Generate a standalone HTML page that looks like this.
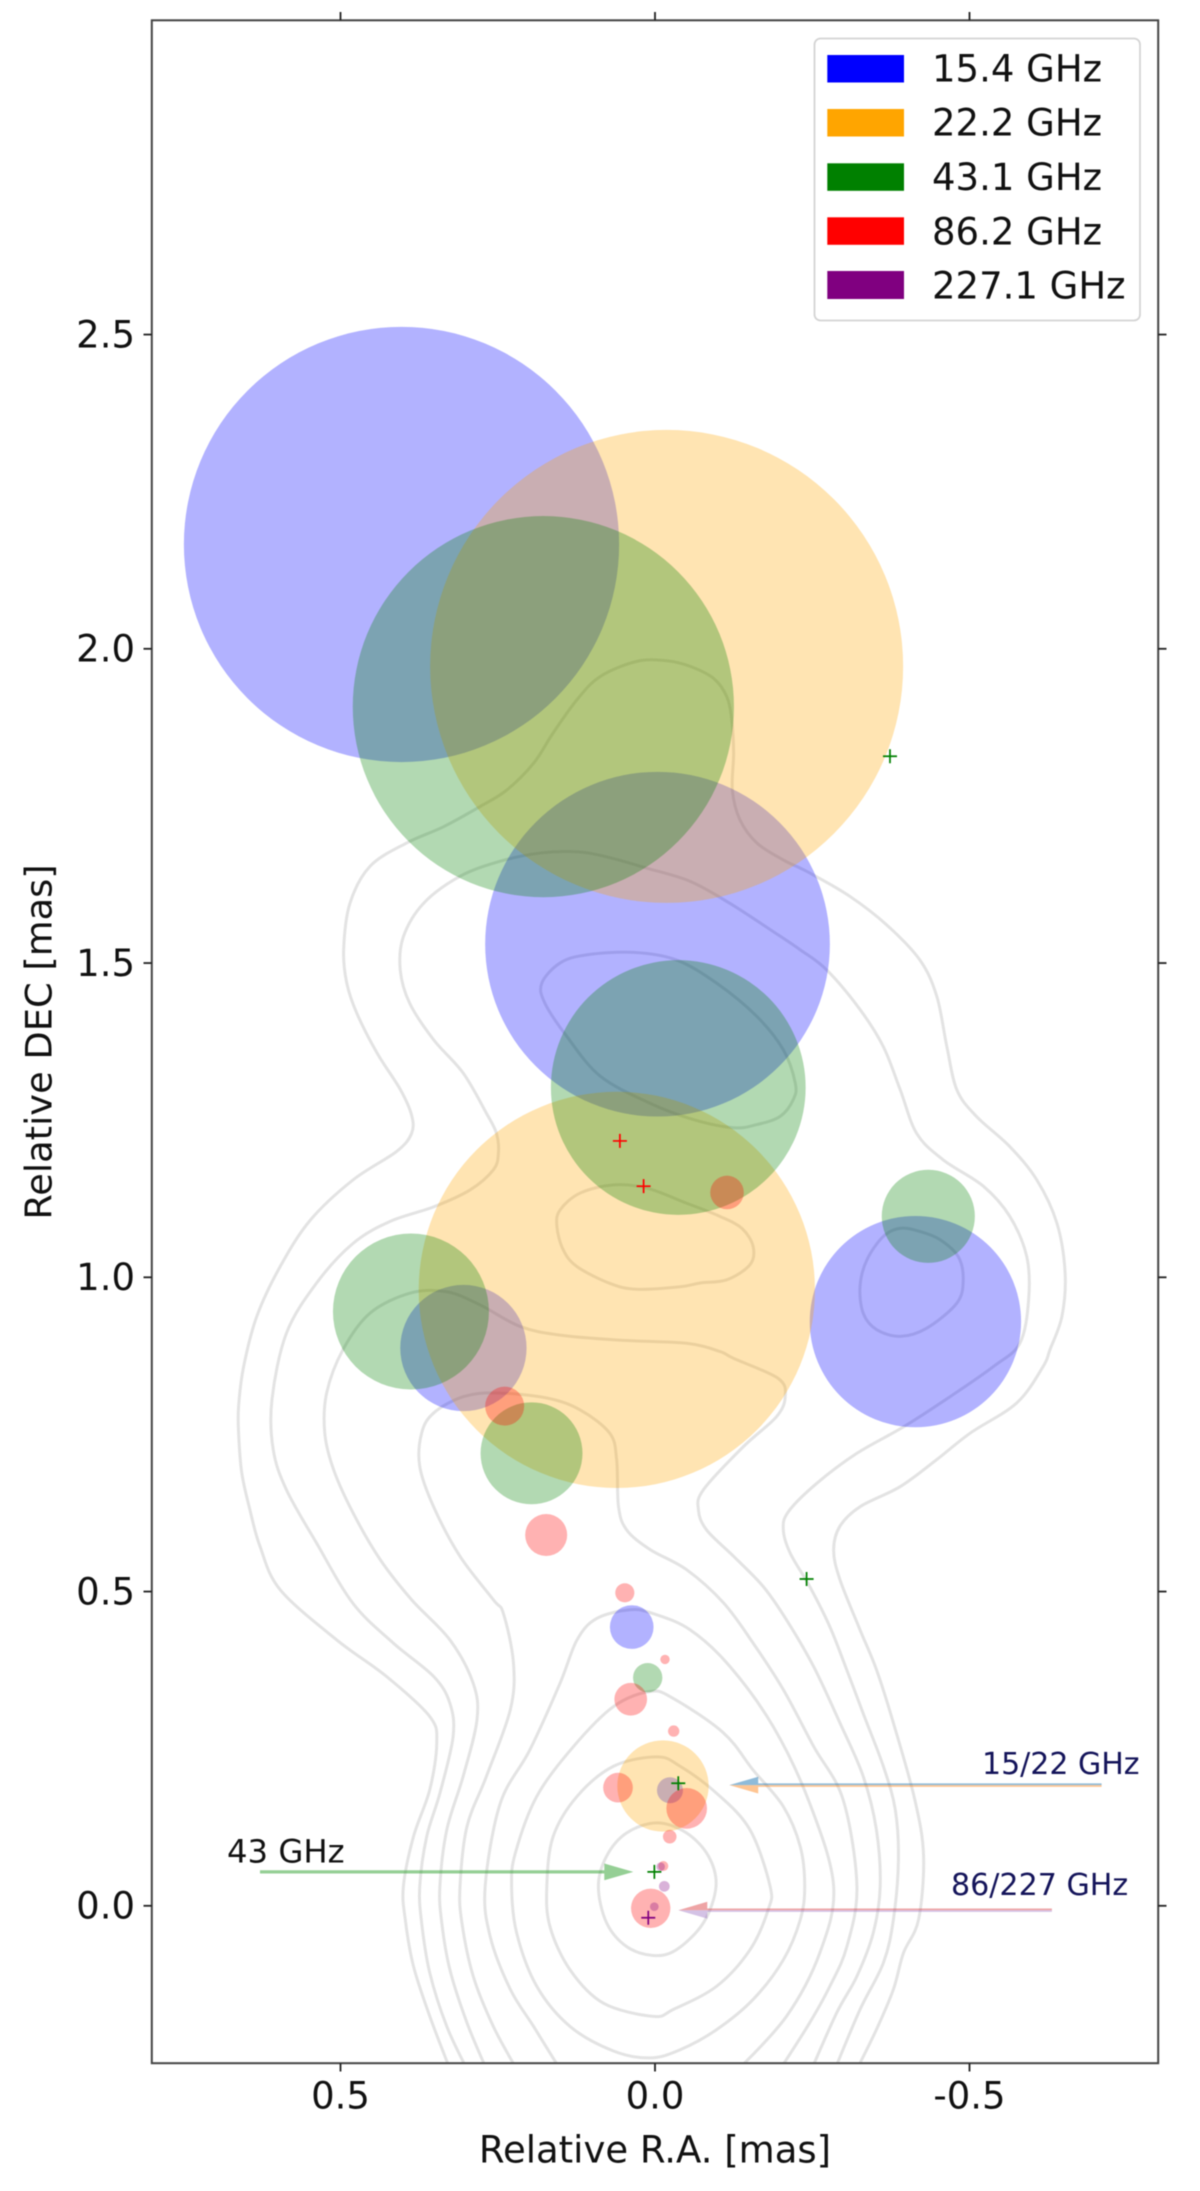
<!DOCTYPE html>
<html lang="en">
<head>
<meta charset="utf-8">
<title>VLBI component positions</title>
<style>
  html, body { margin: 0; padding: 0; background: #ffffff; }
  #chart { display: block; width: 1200px; height: 2191px; font-family: "DejaVu Sans", "Liberation Sans", sans-serif; filter: blur(0.45px); }
</style>
</head>
<body>
<svg id="chart" xmlns="http://www.w3.org/2000/svg" width="1200" height="2191" viewBox="0 0 1200 2191">
  <defs>
    <clipPath id="plot-clip"><rect x="151.8" y="20.3" width="1006.4" height="2042.9"/></clipPath>
  </defs>
  <rect x="0" y="0" width="1200" height="2191" fill="#ffffff"/>
  <g id="contour-layer" clip-path="url(#plot-clip)"></g>
  <g id="component-layer" clip-path="url(#plot-clip)"></g>
  <g id="arrow-layer"></g>
  <g id="marker-layer"></g>

  <text x="227" y="1862.5" font-size="32.3" fill="#111111">43 GHz</text>
  <text x="982" y="1774" font-size="30" fill="#14145a">15/22 GHz</text>
  <text x="951" y="1895" font-size="30.1" fill="#14145a">86/227 GHz</text>

  <rect x="151.8" y="20.3" width="1006.4" height="2042.9" fill="none" stroke="#444444" stroke-width="2"/>
  <g id="tick-layer"></g>

  <text x="655" y="2162.5" font-size="37" text-anchor="middle" fill="#111111">Relative R.A. [mas]</text>
  <text transform="translate(51.5 1042) rotate(-90)" font-size="36.8" text-anchor="middle" fill="#111111">Relative DEC [mas]</text>

  <g>
    <rect x="814.5" y="38.5" width="325.5" height="282" rx="6" ry="6" fill="#ffffff" fill-opacity="0.8" stroke="#d4d4d4" stroke-width="1.8"/>
    <rect x="827.3" y="55" width="76.7" height="27.5" fill="#0000ff"/>
    <text x="932" y="81.7" font-size="37" fill="#111111">15.4 GHz</text>
    <rect x="827.3" y="109" width="76.7" height="27.5" fill="#ffa500"/>
    <text x="932" y="135.7" font-size="37" fill="#111111">22.2 GHz</text>
    <rect x="827.3" y="163.3" width="76.7" height="27.5" fill="#008000"/>
    <text x="932" y="190" font-size="37" fill="#111111">43.1 GHz</text>
    <rect x="827.3" y="217.3" width="76.7" height="27.5" fill="#ff0000"/>
    <text x="932" y="244.3" font-size="37" fill="#111111">86.2 GHz</text>
    <rect x="827.3" y="271" width="76.7" height="28" fill="#800080"/>
    <text x="932" y="298.3" font-size="37" fill="#111111">227.1 GHz</text>
  </g>
</svg>

<script>
// Axis tick values and labels
const xTickValues = [0.5, 0.0, -0.5];
const xTickLabels = ["0.5", "0.0", "-0.5"];
const yTickValues = [0.0, 0.5, 1.0, 1.5, 2.0, 2.5];
const yTickLabels = ["0.0", "0.5", "1.0", "1.5", "2.0", "2.5"];

// Model components per band: relative R.A., relative DEC, radius (all in mas)
const ra15 = [0.403, -0.004, -0.414, 0.3046, 0.037, -0.0238];
const dec15 = [2.166, 1.530, 0.9295, 0.8875, 0.4435, 0.1838];
const radius15 = [0.346, 0.274, 0.168, 0.1004, 0.0347, 0.0207];

const ra22 = [-0.0185, 0.0607, -0.0127];
const dec22 = [1.972, 0.980, 0.1906];
const radius22 = [0.376, 0.315, 0.0726];

const ra43 = [0.1775, -0.037, -0.4345, 0.388, 0.1963, 0.0116];
const dec43 = [1.908, 1.302, 1.097, 0.9455, 0.720, 0.363];
const radius43 = [0.303, 0.2025, 0.074, 0.124, 0.081, 0.0233];

const ra86 = [0.239, 0.173, -0.1145, 0.048, -0.0159, 0.0386, -0.0297, 0.0588, -0.0504, -0.0234, -0.0132, 0.0068];
const dec86 = [0.795, 0.590, 1.135, 0.498, 0.392, 0.3286, 0.278, 0.188, 0.155, 0.110, 0.0633, -0.004];
const radius86 = [0.031, 0.0334, 0.0267, 0.0152, 0.0075, 0.026, 0.009, 0.0236, 0.0323, 0.0108, 0.008, 0.0313];

const ra227 = [-0.009, -0.0148, 0.0011];
const dec227 = [0.0622, 0.031, -0.0014];
const radius227 = [0.0068, 0.0085, 0.0069];

// Point-like components drawn as plus markers
const plusRa43 = [-0.3736, -0.241, -0.037, 0.001];
const plusDec43 = [1.829, 0.520, 0.195, 0.054];
const plusRa86 = [0.0558, 0.0181];
const plusDec86 = [1.217, 1.145];
const plusRa227 = [0.0107];
const plusDec227 = [-0.019];

// Arrows: tail and tip R.A., DEC (mas)
const arrow43Ra = [0.628, 0.0345];
const arrow43Dec = 0.054;
const arrow1522Ra = [-0.710, -0.118];
const arrow1522Dec = 0.192;
const arrow86227Ra = [-0.631, -0.037];
const arrow86227Dec = -0.007;

// Intensity contours as [R.A., DEC] vertices (mas)
const contourOuter1 = [[.326,-.26],[.358,-.176],[.384,-.096],[.397,-.022],[.400,.031],[.384,.110],[.358,.185],[.347,.259],[.358,.301],[.427,.365],[.506,.423],[.596,.503],[.628,.572],[.644,.630],[.657,.689],[.662,.752],[.662,.795],[.654,.858],[.633,.938],[.596,1.017],[.548,1.091],[.480,1.155],[.411,1.200],[.387,1.229],[.387,1.258],[.405,1.299],[.442,1.357],[.474,1.420],[.490,1.468],[.495,1.521],[.485,1.595],[.453,1.654],[.395,1.691],[.336,1.717],[.278,1.749],[.236,1.775],[.193,1.818],[.162,1.866],[.124,1.919],[.087,1.956],[.029,1.980],[-.019,1.981],[-.056,1.972],[-.093,1.953],[-.114,1.924],[-.122,1.887],[-.125,1.834],[-.123,1.775],[-.135,1.728],[-.162,1.691],[-.204,1.664],[-.231,1.651],[-.252,1.640],[-.310,1.606],[-.368,1.561],[-.421,1.505],[-.448,1.447],[-.464,1.367],[-.480,1.298],[-.511,1.256],[-.564,1.208],[-.607,1.155],[-.639,1.086],[-.652,1.007],[-.647,.938],[-.628,.885],[-.617,.858],[-.575,.800],[-.501,.752],[-.448,.710],[-.390,.667],[-.326,.635],[-.294,.604],[-.284,.566],[-.294,.519],[-.326,.439],[-.352,.376],[-.379,.291],[-.413,.169],[-.427,.079],[-.419,-.022],[-.395,-.075],[-.379,-.133],[-.352,-.197],[-.321,-.26]];
const contourOuter2 = [[.299,-.26],[.331,-.192],[.358,-.107],[.371,-.027],[.374,.031],[.363,.110],[.342,.179],[.321,.269],[.326,.322],[.352,.365],[.416,.418],[.480,.481],[.538,.577],[.586,.662],[.607,.726],[.609,.805],[.586,.911],[.538,.991],[.480,1.054],[.421,1.089],[.352,1.112],[.294,1.139],[.257,1.171],[.249,1.197],[.252,1.229],[.268,1.261],[.305,1.325],[.352,1.378],[.390,1.436],[.405,1.489],[.400,1.542],[.368,1.595],[.310,1.638],[.246,1.662],[.183,1.675],[.124,1.677],[.077,1.669],[.013,1.651],[-.056,1.630],[-.119,1.595],[-.188,1.550],[-.231,1.521],[-.273,1.489],[-.326,1.426],[-.363,1.367],[-.390,1.298],[-.416,1.229],[-.458,1.187],[-.522,1.145],[-.564,1.097],[-.591,1.033],[-.594,.964],[-.580,.895],[-.538,.858],[-.469,.810],[-.395,.762],[-.321,.720],[-.257,.672],[-.212,.627],[-.204,.598],[-.215,.561],[-.246,.508],[-.278,.444],[-.305,.375],[-.331,.306],[-.363,.222],[-.382,.153],[-.387,.073],[-.379,-.022],[-.363,-.091],[-.326,-.165],[-.286,-.26]];
const contourOuter3 = [[.268,-.26],[.299,-.186],[.326,-.102],[.339,-.027],[.342,.031],[.331,.121],[.305,.206],[.283,.296],[.289,.354],[.326,.423],[.387,.487],[.437,.551],[.480,.625],[.511,.694],[.525,.752],[.522,.816],[.496,.885],[.453,.943],[.389,.975],[.331,.977],[.278,.956],[.215,.922],[.151,.908],[.056,.900],[-.050,.895],[-.103,.882],[-.125,.871],[-.196,.839],[-.207,.810],[-.193,.778],[-.141,.731],[-.077,.662],[-.069,.630],[-.082,.598],[-.125,.556],[-.172,.508],[-.209,.455],[-.252,.381],[-.294,.291],[-.331,.206],[-.352,.121],[-.358,.031],[-.347,-.043],[-.321,-.112],[-.289,-.170],[-.249,-.26]];
const contourOuter4 = [[.220,-.26],[.257,-.192],[.289,-.112],[.307,-.027],[.310,.031],[.299,.126],[.268,.206],[.230,.312],[.225,.386],[.241,.465],[.257,.487],[.310,.556],[.352,.635],[.374,.699],[.371,.752],[.352,.784],[.305,.810],[.252,.816],[.172,.808],[.119,.789],[.072,.752],[.061,.710],[.058,.635],[.045,.598],[.008,.567],[-.050,.535],[-.109,.482],[-.156,.418],[-.204,.344],[-.252,.254],[-.299,.169],[-.321,.031],[-.305,-.065],[-.278,-.128],[-.246,-.186],[-.199,-.26]];
const contourMiddle5 = [[.151,-.26],[.193,-.192],[.230,-.133],[.262,-.049],[.270,.031],[.246,.163],[.199,.248],[.151,.354],[.124,.423],[.093,.457],[.040,.471],[.003,.465],[-.056,.439],[-.119,.381],[-.188,.285],[-.246,.163],[-.284,.031],[-.262,-.075],[-.209,-.176],[-.133,-.26]];
const contourClosed6 = [[.008,.341],[.066,.317],[.130,.253],[.188,.174],[.222,.084],[.228,.031],[.220,-.043],[.188,-.128],[.135,-.192],[.066,-.231],[.008,-.242],[-.040,-.229],[-.098,-.197],[-.156,-.149],[-.204,-.086],[-.231,-.022],[-.238,.031],[-.231,.094],[-.204,.158],[-.156,.216],[-.109,.275],[-.029,.330]];
const contourClosed7 = [[-.003,.237],[.066,.222],[.124,.174],[.162,.110],[.172,.031],[.167,-.033],[.135,-.102],[.082,-.155],[.003,-.176],[-.029,-.165],[-.098,-.128],[-.151,-.070],[-.180,-.006],[-.183,.031],[-.151,.121],[-.098,.179],[-.040,.222]];
const contourCore8 = [[-.003,.132],[.045,.116],[.077,.079],[.090,.031],[.077,-.027],[.045,-.065],[.003,-.079],[-.034,-.070],[-.077,-.027],[-.097,.031],[-.085,.079],[-.050,.116]];
const contourJetUpper = [[.180,1.468],[.151,1.500],[.109,1.513],[.034,1.517],[-.034,1.505],[-.098,1.468],[-.162,1.415],[-.204,1.362],[-.223,1.309],[-.220,1.283],[-.199,1.256],[-.162,1.243],[-.125,1.238],[-.061,1.251],[.008,1.277],[.087,1.320],[.140,1.383],[.175,1.436]];
const contourJetMiddle = [[.151,1.107],[.119,1.134],[.066,1.147],[.013,1.142],[-.050,1.118],[-.103,1.097],[-.138,1.078],[-.156,1.049],[-.151,1.020],[-.114,.996],[-.072,.991],[-.040,.985],[.029,.981],[.071,.990],[.124,1.017],[.146,1.044],[.156,1.081]];
const contourJetRight = [[-.390,1.078],[-.363,1.065],[-.337,1.028],[-.326,.986],[-.331,.943],[-.352,.917],[-.390,.906],[-.432,.919],[-.480,.959],[-.490,.996],[-.482,1.033],[-.453,1.060],[-.421,1.073]];

const SVG_NS = "http://www.w3.org/2000/svg";

// Axis functions
function xScale(ra) { return 655 - 629 * ra; }
function yScale(dec) { return 1905.8 - 628.5 * dec; }
function rScale(r) { return 629 * r; }

function smoothPath(points, closed) {
  const n = points.length;
  const px = points.map(function (p) { return [xScale(p[0]), yScale(p[1])]; });
  const at = function (i) {
    if (closed) { return px[(i + n) % n]; }
    return px[Math.max(0, Math.min(n - 1, i))];
  };
  let d = "M" + px[0][0].toFixed(2) + " " + px[0][1].toFixed(2);
  const segments = closed ? n : n - 1;
  for (let i = 0; i < segments; i++) {
    const p0 = at(i - 1), p1 = at(i), p2 = at(i + 1), p3 = at(i + 2);
    const c1x = p1[0] + (p2[0] - p0[0]) / 6, c1y = p1[1] + (p2[1] - p0[1]) / 6;
    const c2x = p2[0] - (p3[0] - p1[0]) / 6, c2y = p2[1] - (p3[1] - p1[1]) / 6;
    d += "C" + c1x.toFixed(2) + " " + c1y.toFixed(2) + " " + c2x.toFixed(2) + " " + c2y.toFixed(2) + " " + p2[0].toFixed(2) + " " + p2[1].toFixed(2);
  }
  return closed ? d + "Z" : d;
}

// Contours
const contourLayer = document.getElementById("contour-layer");
function drawContour(points, closed) {
  const el = document.createElementNS(SVG_NS, "path");
  
  
  el.setAttribute("d", smoothPath(points, closed));
  el.setAttribute("fill", "none");
  el.setAttribute("stroke", "#000000");
  el.setAttribute("stroke-opacity", "0.11");
  el.setAttribute("stroke-width", "3");
  contourLayer.appendChild(el);
}
drawContour(contourOuter1, false);
drawContour(contourOuter2, false);
drawContour(contourOuter3, false);
drawContour(contourOuter4, false);
drawContour(contourMiddle5, false);
drawContour(contourClosed6, true);
drawContour(contourClosed7, true);
drawContour(contourCore8, true);
drawContour(contourJetUpper, true);
drawContour(contourJetMiddle, true);
drawContour(contourJetRight, true);

// Gaussian components
const componentLayer = document.getElementById("component-layer");
function drawBand(raValues, decValues, radiusValues, color) {
  for (let i = 0; i < raValues.length; i++) {
    const el = document.createElementNS(SVG_NS, "circle");
    
    
    el.setAttribute("cx", xScale(raValues[i]).toFixed(2));
    el.setAttribute("cy", yScale(decValues[i]).toFixed(2));
    el.setAttribute("r", rScale(radiusValues[i]).toFixed(2));
    el.setAttribute("fill", color);
    el.setAttribute("fill-opacity", "0.3");
    componentLayer.appendChild(el);
  }
}
drawBand(ra15, dec15, radius15, "#0000ff");
drawBand(ra22, dec22, radius22, "#ffa500");
drawBand(ra43, dec43, radius43, "#008000");
drawBand(ra86, dec86, radius86, "#ff0000");
drawBand(ra227, dec227, radius227, "#800080");

// Arrows (full or half heads)
const arrowLayer = document.getElementById("arrow-layer");
function drawArrow(tailRa, tipRa, dec, side, color, opacity) {
  const tailX = xScale(tailRa), tipX = xScale(tipRa), y = yScale(dec);
  const dir = tipX < tailX ? 1 : -1;
  const baseX = tipX + dir * 29;
  const headHalf = 8.4, shaftHalf = side === 0 ? 1.6 : 1.7;
  const top = side <= 0 ? -1 : 0;
  const bottom = side >= 0 ? 1 : 0;
  const pts = [
    [tailX, y + top * shaftHalf],
    [baseX, y + top * shaftHalf],
    [baseX, y + top * headHalf],
    [tipX, y],
    [baseX, y + bottom * headHalf],
    [baseX, y + bottom * shaftHalf],
    [tailX, y + bottom * shaftHalf]
  ];
  const el = document.createElementNS(SVG_NS, "polygon");
  
  
  el.setAttribute("points", pts.map(function (p) { return p[0].toFixed(2) + "," + p[1].toFixed(2); }).join(" "));
  el.setAttribute("fill", color);
  el.setAttribute("fill-opacity", opacity);
  arrowLayer.appendChild(el);
}
drawArrow(arrow43Ra[0], arrow43Ra[1], arrow43Dec, 0, "#2ca02c", "0.5");
drawArrow(arrow1522Ra[0], arrow1522Ra[1], arrow1522Dec, -1, "#1f77b4", "0.5");
drawArrow(arrow1522Ra[0], arrow1522Ra[1], arrow1522Dec, 1, "#ff7f0e", "0.45");
drawArrow(arrow86227Ra[0], arrow86227Ra[1], arrow86227Dec, -1, "#d62728", "0.42");
drawArrow(arrow86227Ra[0], arrow86227Ra[1], arrow86227Dec, 1, "#9467bd", "0.4");

// Plus markers
const markerLayer = document.getElementById("marker-layer");
function drawPlus(raValues, decValues, color) {
  for (let i = 0; i < raValues.length; i++) {
    const x = xScale(raValues[i]), y = yScale(decValues[i]);
    const el = document.createElementNS(SVG_NS, "path");
    
    
    el.setAttribute("d", "M" + (x - 7).toFixed(2) + " " + y.toFixed(2) + "H" + (x + 7).toFixed(2) + "M" + x.toFixed(2) + " " + (y - 7).toFixed(2) + "V" + (y + 7).toFixed(2));
    el.setAttribute("fill", "none");
    el.setAttribute("stroke", color);
    el.setAttribute("stroke-width", "1.7");
    markerLayer.appendChild(el);
  }
}
drawPlus(plusRa43, plusDec43, "#008000");
drawPlus(plusRa86, plusDec86, "#ff0000");
drawPlus(plusRa227, plusDec227, "#800080");

// Ticks and tick labels
const tickLayer = document.getElementById("tick-layer");
function drawTick(x1, y1, x2, y2) {
  const el = document.createElementNS(SVG_NS, "line");
  
  
  el.setAttribute("x1", x1);
  el.setAttribute("y1", y1);
  el.setAttribute("x2", x2);
  el.setAttribute("y2", y2);
  el.setAttribute("stroke", "#222222");
  el.setAttribute("stroke-width", "1.8");
  tickLayer.appendChild(el);
}
function drawTickLabel(x, y, anchor, label) {
  const el = document.createElementNS(SVG_NS, "text");
  
  
  el.setAttribute("x", x);
  el.setAttribute("y", y);
  el.setAttribute("text-anchor", anchor);
  el.setAttribute("font-size", "37");
  el.setAttribute("fill", "#111111");
  el.textContent = label;
  tickLayer.appendChild(el);
}
xTickValues.forEach(function (v, i) {
  const x = xScale(v);
  drawTick(x, 2063.3, x, 2071.5);
  drawTick(x, 20.3, x, 12);
  drawTickLabel(x, 2108.3, "middle", xTickLabels[i]);
});
yTickValues.forEach(function (v, i) {
  const y = yScale(v);
  drawTick(151.8, y, 143.5, y);
  drawTick(1158.2, y, 1166.5, y);
  drawTickLabel(135, y + 12.7, "end", yTickLabels[i]);
});
</script>
</body>
</html>
